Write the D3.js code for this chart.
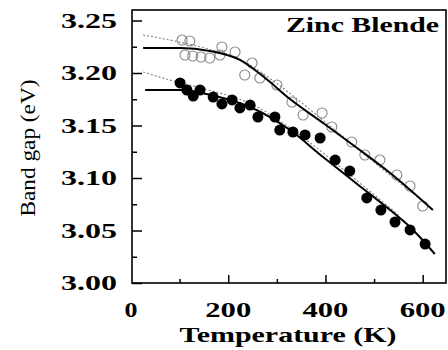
<!DOCTYPE html>
<html><head><meta charset="utf-8">
<script src="https://cdn.jsdelivr.net/npm/d3@7"></script>
<style>html,body{margin:0;padding:0;background:#fff;}svg{display:block;}</style>
</head><body>
<script>
// ---- data ----
const openT = [105,121,111,127,144,162,183,187,214,249,234,265,300,331,354,393,413,454,481,512,547,574,600];
const openV = [3.2314,3.2305,3.2171,3.2162,3.2152,3.2143,3.2171,3.2248,3.2200,3.2095,3.1981,3.1952,3.1886,3.1724,3.1600,3.1619,3.1486,3.1343,3.1219,3.1171,3.1029,3.0924,3.0733];
const filledT = [101,115,128,142,169,187,208,224,245,261,296,306,333,358,389,420,450,485,514,543,574,605];
const filledV = [3.1905,3.1838,3.1781,3.1838,3.1771,3.1705,3.1743,3.1667,3.1695,3.1581,3.1581,3.1457,3.1438,3.1410,3.1381,3.1171,3.1067,3.0810,3.0695,3.0581,3.0505,3.0371];
const upperFitT = [25,101,162,224,276,327,395,465,533,621];
const upperFitV = [3.2238,3.2238,3.2210,3.2124,3.1952,3.1752,3.1524,3.1286,3.1048,3.0695];
const lowerFitT = [29,101,173,245,327,395,465,533,574,625];
const lowerFitV = [3.1838,3.1838,3.1781,3.1676,3.1457,3.1200,3.0943,3.0695,3.0533,3.0276];
const upperDotT = [25,80,150,220,300,400,500,580];
const upperDotV = [3.2362,3.2314,3.2240,3.2140,3.1900,3.1530,3.1150,3.0850];
const lowerDotT = [25,80,150,250,350,450,550];
const lowerDotV = [3.2010,3.1933,3.1850,3.1700,3.1400,3.1030,3.0650];
const xTickLabels = ["0","200","400","600"];
const yTickLabels = ["3.00","3.05","3.10","3.15","3.20","3.25"];
const xTitle = "Temperature (K)";
const yTitle = "Band gap (eV)";
const panelLabel = "Zinc Blende";

// ---- layout ----
const W = 448, H = 350;
const x = d3.scaleLinear().domain([0, 650]).range([131, 447]);
const y = d3.scaleLinear().domain([3.00, 3.26]).range([283, 10]);
const font = "'Liberation Serif','Times New Roman',serif";

const svg = d3.select("body").append("svg").attr("width", W).attr("height", H);
svg.append("rect").attr("width", W).attr("height", H).attr("fill", "#fff");

function zip(a, b){ return a.map((v,i)=>[v,b[i]]); }
const line = d3.line().x(d=>x(d[0])).y(d=>y(d[1])).curve(d3.curveMonotoneX);

// dotted lines
[[upperDotT,upperDotV],[lowerDotT,lowerDotV]].forEach(([t,v])=>{
  svg.append("path").attr("d", line(zip(t,v))).attr("fill","none")
    .attr("stroke","#8a8a8a").attr("stroke-width",1.2).attr("stroke-dasharray","2,2");
});

// open circles
svg.append("g").selectAll("circle").data(zip(openT,openV)).join("circle")
  .attr("cx",d=>x(d[0])).attr("cy",d=>y(d[1])).attr("r",5)
  .attr("fill","none").attr("stroke","#8a8a8a").attr("stroke-width",1.1);

// solid fit lines
[[upperFitT,upperFitV],[lowerFitT,lowerFitV]].forEach(([t,v])=>{
  svg.append("path").attr("d", line(zip(t,v))).attr("fill","none")
    .attr("stroke","#000").attr("stroke-width",2);
});

// filled circles
svg.append("g").selectAll("circle").data(zip(filledT,filledV)).join("circle")
  .attr("cx",d=>x(d[0])).attr("cy",d=>y(d[1])).attr("r",5.5).attr("fill","#000");

// axes (ticks inward)
const yMajor = yTickLabels.map(Number);
const yAxis = d3.axisLeft(y).tickValues(yMajor).tickSize(-10).tickFormat("");
const yMinor = d3.axisLeft(y).tickValues(d3.range(3.025, 3.26, 0.05)).tickSize(-5).tickFormat("");
svg.append("g").attr("transform",`translate(${x(0)+1},0)`).call(yAxis);
svg.append("g").attr("transform",`translate(${x(0)+1},0)`).call(yMinor);
const xMajor = xTickLabels.map(Number);
const xAxis = d3.axisBottom(x).tickValues(xMajor.slice(1)).tickSize(-8).tickFormat("");
const xMinor = d3.axisBottom(x).tickValues([100,300,500]).tickSize(-4).tickFormat("");
svg.append("g").attr("transform",`translate(0,${y(3.00)})`).call(xAxis);
svg.append("g").attr("transform",`translate(0,${y(3.00)})`).call(xMinor);
svg.selectAll(".domain").remove();
svg.selectAll(".tick line").attr("stroke","#000").attr("stroke-width",1.5);

// frame
svg.append("rect").attr("x", x(0)+1).attr("y", y(3.26)).attr("width", x(650)-x(0)-2)
  .attr("height", y(3.00)-y(3.26)).attr("fill","none").attr("stroke","#000").attr("stroke-width",1.6);

// text helper
function txt(s, px, py, size, weight, len, anchor){
  return svg.append("text").text(s).attr("x",px).attr("y",py).attr("font-family",font).attr("font-size",size)
    .attr("font-weight",weight).attr("text-anchor",anchor||"middle").attr("fill","#000")
    .attr("textLength",len).attr("lengthAdjust","spacingAndGlyphs");
}
yTickLabels.forEach(l=>{ txt(l, 117, y(+l)+7, 20, "bold", 56, "end"); });
xTickLabels.forEach(l=>{ txt(l, x(+l), 317, 20, "bold", l.length===1?13:46, "middle"); });
txt(xTitle, 288, 342, 21, "bold", 217, "middle");
txt(yTitle, 0, 0, 20, "normal", 137, "middle").attr("transform","translate(35,148) rotate(-90)");
txt(panelLabel, 439, 32, 21, "bold", 153, "end");
</script>
</body></html>
